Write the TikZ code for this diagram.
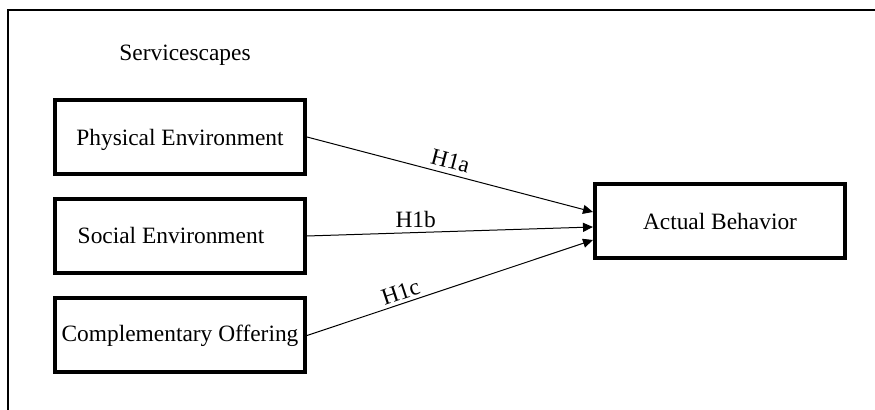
\documentclass[tikz,border=0pt]{standalone}
\usepackage{fontspec}
\setmainfont{Liberation Serif}
\usetikzlibrary{arrows.meta}
\begin{document}
\begin{tikzpicture}[x=0.5pt, y=-0.5pt, >={Triangle[length=5pt,width=4.5pt]},
        every node/.style={font=\fontsize{11.7}{14}\selectfont},
        factor/.style={rectangle, draw, line width=2pt, minimum width=125pt, minimum height=37pt, inner sep=0pt},
        hyp/.style={->, line width=0.5pt}]
        \useasboundingbox (0,0) rectangle (875,410);
        % frame
        \draw[line width=0.75pt] (8,410) -- (8,10) -- (875,10);
        \node (title) at (185,55) {Servicescapes};
        \node[factor, text height=10pt, text depth=1.5pt] (PE) at (180,137) {Physical Environment};
        \node[factor] (SE) at (180,236) {\hspace*{-9pt}Social Environment};
        \node[factor] (CO) at (180,335.5) {Complementary Offering};
        \node[factor] (AB) at (720,221.5) {Actual Behavior};
        \draw[hyp] (PE.east) -- node[pos=0.49, sloped, above, inner sep=2.5pt] {H1a} ([yshift=4.75pt]AB.west);
        \draw[hyp] (SE.east) -- node[pos=0.38, above, inner sep=2pt] {H1b} ([yshift=-2.75pt]AB.west);
        \draw[hyp] (CO.east) -- node[pos=0.34, sloped, above, inner sep=1.5pt] {H1c} ([yshift=-9.25pt]AB.west);
    \end{tikzpicture}
\end{document}
